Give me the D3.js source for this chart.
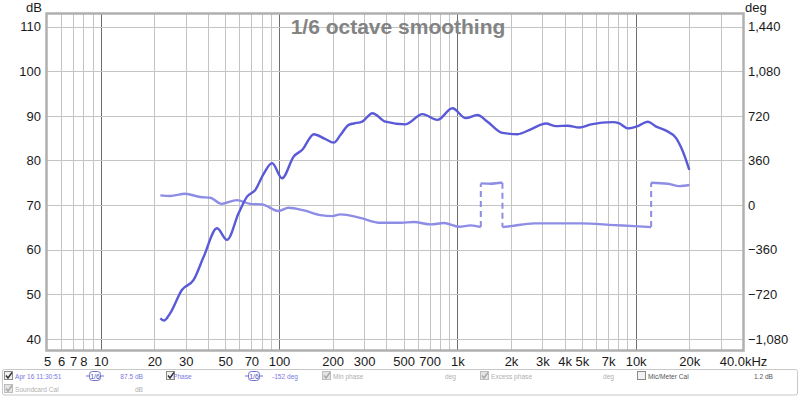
<!DOCTYPE html>
<html>
<head>
<meta charset="utf-8">
<script src="https://cdn.jsdelivr.net/npm/d3@7"></script>
<style>
  body { margin: 0; background: #fff; }
  svg { display: block; font-family: "Liberation Sans", Arial, sans-serif; }
</style>
</head>
<body>
<svg id="chart" width="800" height="397"></svg>
<script>
// SPL trace (dB)
var splFreq = [21.6, 22.7, 24.5, 28.6, 33.2, 37.8, 44.9, 51.1, 59.4, 66.2, 73.7, 82, 91.5, 104, 121, 135, 157, 180, 203, 221, 246, 263, 293, 334, 396, 513, 637, 773, 939, 1115, 1297, 1476, 1791, 2176, 2583, 3141, 3574, 4158, 4831, 5620, 7440, 8105, 9034, 10280, 11690, 13030, 14820, 16870, 18400, 20000];
var splDb = [44.6, 44.1, 45.7, 51.0, 53.2, 58.4, 64.8, 62.2, 68.2, 71.9, 73.4, 77.0, 79.4, 76.0, 80.9, 82.4, 85.9, 84.9, 84.0, 85.7, 88.0, 88.3, 88.7, 90.6, 88.7, 88.1, 90.4, 89.1, 91.7, 89.5, 90.2, 88.7, 86.2, 85.9, 87.0, 88.3, 87.7, 87.8, 87.4, 88.1, 88.6, 88.3, 87.2, 87.7, 88.7, 87.6, 86.7, 85.0, 82.0, 77.9];

// Phase trace (deg, wrapped); a repeated frequency marks a wrap jump
var phaseFreq = [21.6, 24.5, 29.8, 36.2, 41.2, 47.6, 58, 69, 80, 99.6, 113, 138, 171, 200, 221, 285, 370, 482, 571, 709, 842, 1022, 1190, 1354, 1354, 1541, 1753, 1791, 1791, 1995, 2696, 4931, 7591, 9835, 12214, 12214, 15150, 17610, 20040];
var phaseDeg = [78, 73, 91, 65, 59, 10, 40, 10, 6, -48, -22, -43, -81, -89, -75, -103, -143, -143, -137, -156, -145, -175, -164, -178, 175, 172, 180, 180, -178, -170, -148, -148, -162, -170, -178, 180, 172, 153, 162];

var dbTicks = [40, 50, 60, 70, 80, 90, 100, 110];
var degTicks = [-1080, -720, -360, 0, 360, 720, 1080, 1440];
var freqTicks = [5, 6, 7, 8, 10, 20, 30, 50, 70, 100, 200, 300, 500, 700, 1000, 2000, 3000, 4000, 5000, 7000, 10000, 20000, 40000];
var freqLabels = ["5", "6", "7", "8", "10", "20", "30", "50", "70", "100", "200", "300", "500", "700", "1k", "2k", "3k", "4k", "5k", "7k", "10k", "20k", "40.0kHz"];

var svg = d3.select("svg#chart");
var margin = { top: 14, right: 57, bottom: 47, left: 47 };
var W = 800, H = 397;

var x = d3.scaleLog().domain([5, 40000]).range([margin.left, W - margin.right]);
var y = d3.scaleLinear().domain([37.5, 112.85]).range([H - margin.bottom, margin.top]);
var yDeg = d3.scaleLinear()
  .domain([(37.5 - 70) * 36, (112.85 - 70) * 36])
  .range([H - margin.bottom, margin.top]);

var plot = svg.append("g");

// vertical grid, 1..9 per decade
var gridF = [];
[1, 10, 100, 1000, 10000].forEach(function(d) {
  for (var m = 1; m <= 9; m++) {
    var f = m * d;
    if (f > 5 && f <= 40000) gridF.push(f);
  }
});
plot.selectAll("line.vg")
  .data(gridF)
  .enter()
  .append("line")
  .attr("x1", function(d) { return Math.round(x(d)) + 0.5; })
  .attr("x2", function(d) { return Math.round(x(d)) + 0.5; })
  .attr("y1", margin.top)
  .attr("y2", H - margin.bottom)
  .attr("stroke", function(d) { return [10, 100, 1000, 10000].indexOf(d) >= 0 ? "#6e6e6e" : "#c4c4c4"; })
  .attr("stroke-width", 1);

// horizontal grid
plot.selectAll("line.hg")
  .data(dbTicks)
  .enter()
  .append("line")
  .attr("x1", margin.left)
  .attr("x2", W - margin.right)
  .attr("y1", function(d) { return Math.round(y(d)) + 0.5; })
  .attr("y2", function(d) { return Math.round(y(d)) + 0.5; })
  .attr("stroke", "#c4c4c4");

// title sits on top of the grid
svg.append("text")
  .attr("x", 398)
  .attr("y", 34)
  .attr("text-anchor", "middle")
  .style("font-size", "21px")
  .style("font-weight", "bold")
  .style("fill", "#838383")
  .text("1/6 octave smoothing");

// traces
var line = d3.line()
  .x(function(d) { return x(d[0]); })
  .y(function(d) { return d[1]; })
  .curve(d3.curveMonotoneX);

var phasePts = phaseFreq.map(function(f, i) { return [f, phaseDeg[i]]; });
var segs = [[]];
for (var i = 0; i < phasePts.length; i++) {
  if (i > 0 && phasePts[i][0] === phasePts[i - 1][0]) {
    svg.append("line")
      .attr("x1", x(phasePts[i][0]))
      .attr("x2", x(phasePts[i][0]))
      .attr("y1", yDeg(phasePts[i - 1][1]))
      .attr("y2", yDeg(phasePts[i][1]))
      .attr("stroke", "#8d8de6")
      .attr("stroke-width", 2)
      .attr("stroke-dasharray", "6,4");
    segs.push([]);
  }
  segs[segs.length - 1].push(phasePts[i]);
}
segs.forEach(function(s) {
  svg.append("path")
    .attr("d", line(s.map(function(p) { return [p[0], yDeg(p[1])]; })))
    .attr("fill", "none")
    .attr("stroke", "#8d8de6")
    .attr("stroke-width", 2.4);
});

svg.append("path")
  .attr("d", line(splFreq.map(function(f, i) { return [f, y(splDb[i])]; })))
  .attr("fill", "none")
  .attr("stroke", "#5a5ad8")
  .attr("stroke-width", 2.4);

// plot frame
svg.append("rect")
  .attr("x", margin.left - 0.5)
  .attr("y", margin.top - 0.5)
  .attr("width", W - margin.left - margin.right + 1)
  .attr("height", H - margin.top - margin.bottom + 1)
  .attr("fill", "none")
  .attr("stroke", "#b0b0b0")
  .attr("stroke-width", 2.5);

// axes
var leftAxis = svg.append("g")
  .attr("transform", "translate(" + (margin.left - 6) + ",0)")
  .call(d3.axisLeft(y).tickValues(dbTicks).tickSize(0).tickPadding(0));
var rightAxis = svg.append("g")
  .attr("transform", "translate(" + (W - margin.right + 5) + ",0)")
  .call(d3.axisRight(yDeg).tickValues(degTicks).tickSize(0).tickPadding(0).tickFormat(d3.format(",")));
var bottomAxis = svg.append("g")
  .attr("transform", "translate(0," + (H - margin.bottom + 7) + ")")
  .call(d3.axisBottom(x).tickValues(freqTicks).tickSize(0).tickPadding(0)
    .tickFormat(function(d, i) { return freqLabels[i]; }));
[leftAxis, rightAxis, bottomAxis].forEach(function(a) {
  a.select(".domain").remove();
  a.selectAll("text")
    .style("font-family", "'Liberation Sans', Arial, sans-serif")
    .style("font-size", "13px")
    .attr("fill", "#1a1a1a");
});

svg.append("text").attr("x", 26).attr("y", 12).style("font-size", "13px").attr("fill", "#1a1a1a").text("dB");
svg.append("text").attr("x", 745).attr("y", 12).style("font-size", "13px").attr("fill", "#1a1a1a").text("deg");

// legend panel
var leg = svg.append("g");
leg.append("rect")
  .attr("x", 2.5).attr("y", 369.5).attr("width", 795).attr("height", 25.5)
  .attr("rx", 2)
  .attr("fill", "#fff")
  .attr("stroke", "#c8c8c8");

function checkbox(cx, cy, checked, dim) {
  leg.append("rect")
    .attr("x", cx + 0.5).attr("y", cy - 4.5).attr("width", 8).attr("height", 8)
    .attr("fill", dim ? "#e4e4e4" : "#f2f2f2")
    .attr("stroke", dim ? "#bcbcbc" : "#8a8a8a");
  if (checked) {
    leg.append("path")
      .attr("d", "M" + (cx + 2) + "," + (cy - 0.5) + " l2,2.5 l4,-5.5")
      .attr("fill", "none")
      .attr("stroke", dim ? "#a8a8a8" : "#333")
      .attr("stroke-width", 1.4);
  }
}
function label(tx, ty, txt, col, anchor) {
  leg.append("text")
    .attr("x", tx).attr("y", ty)
    .attr("text-anchor", anchor || "start")
    .style("font-size", "6.6px")
    .attr("fill", col)
    .text(txt);
}
function smoothBtn(bx, by) {
  leg.append("line").attr("x1", bx).attr("x2", bx + 18).attr("y1", by).attr("y2", by).attr("stroke", "#7070d0");
  leg.append("rect").attr("x", bx + 3.5).attr("y", by - 4.5).attr("width", 11).attr("height", 9).attr("rx", 3)
    .attr("fill", "#fff").attr("stroke", "#7070d0");
  leg.append("text").attr("x", bx + 9).attr("y", by + 3).attr("text-anchor", "middle")
    .style("font-size", "7px").attr("fill", "#5050c0").text("1/6");
}

var blue = "#7a7ae0", grey = "#b0b0b0";
checkbox(4, 376, true, false);
label(15, 379, "Apr 16 11:30:51", blue);
smoothBtn(86, 376);
label(143, 379, "87.5 dB", blue, "end");
checkbox(166, 376, true, false);
label(173, 379, "Phase", blue);
smoothBtn(245, 376);
label(298, 379, "-152 deg", blue, "end");
checkbox(322, 376, true, true);
label(333, 379, "Min phase", grey);
label(456, 379, "deg", grey, "end");
checkbox(480, 376, true, true);
label(491, 379, "Excess phase", grey);
label(614, 379, "deg", grey, "end");
checkbox(637, 376, false, false);
label(648, 379, "Mic/Meter Cal", "#555");
label(773, 379, "1.2 dB", "#555", "end");
checkbox(4, 389, true, true);
label(15, 392, "Soundcard Cal", grey);
label(143, 392, "dB", grey, "end");
</script>
</body>
</html>
